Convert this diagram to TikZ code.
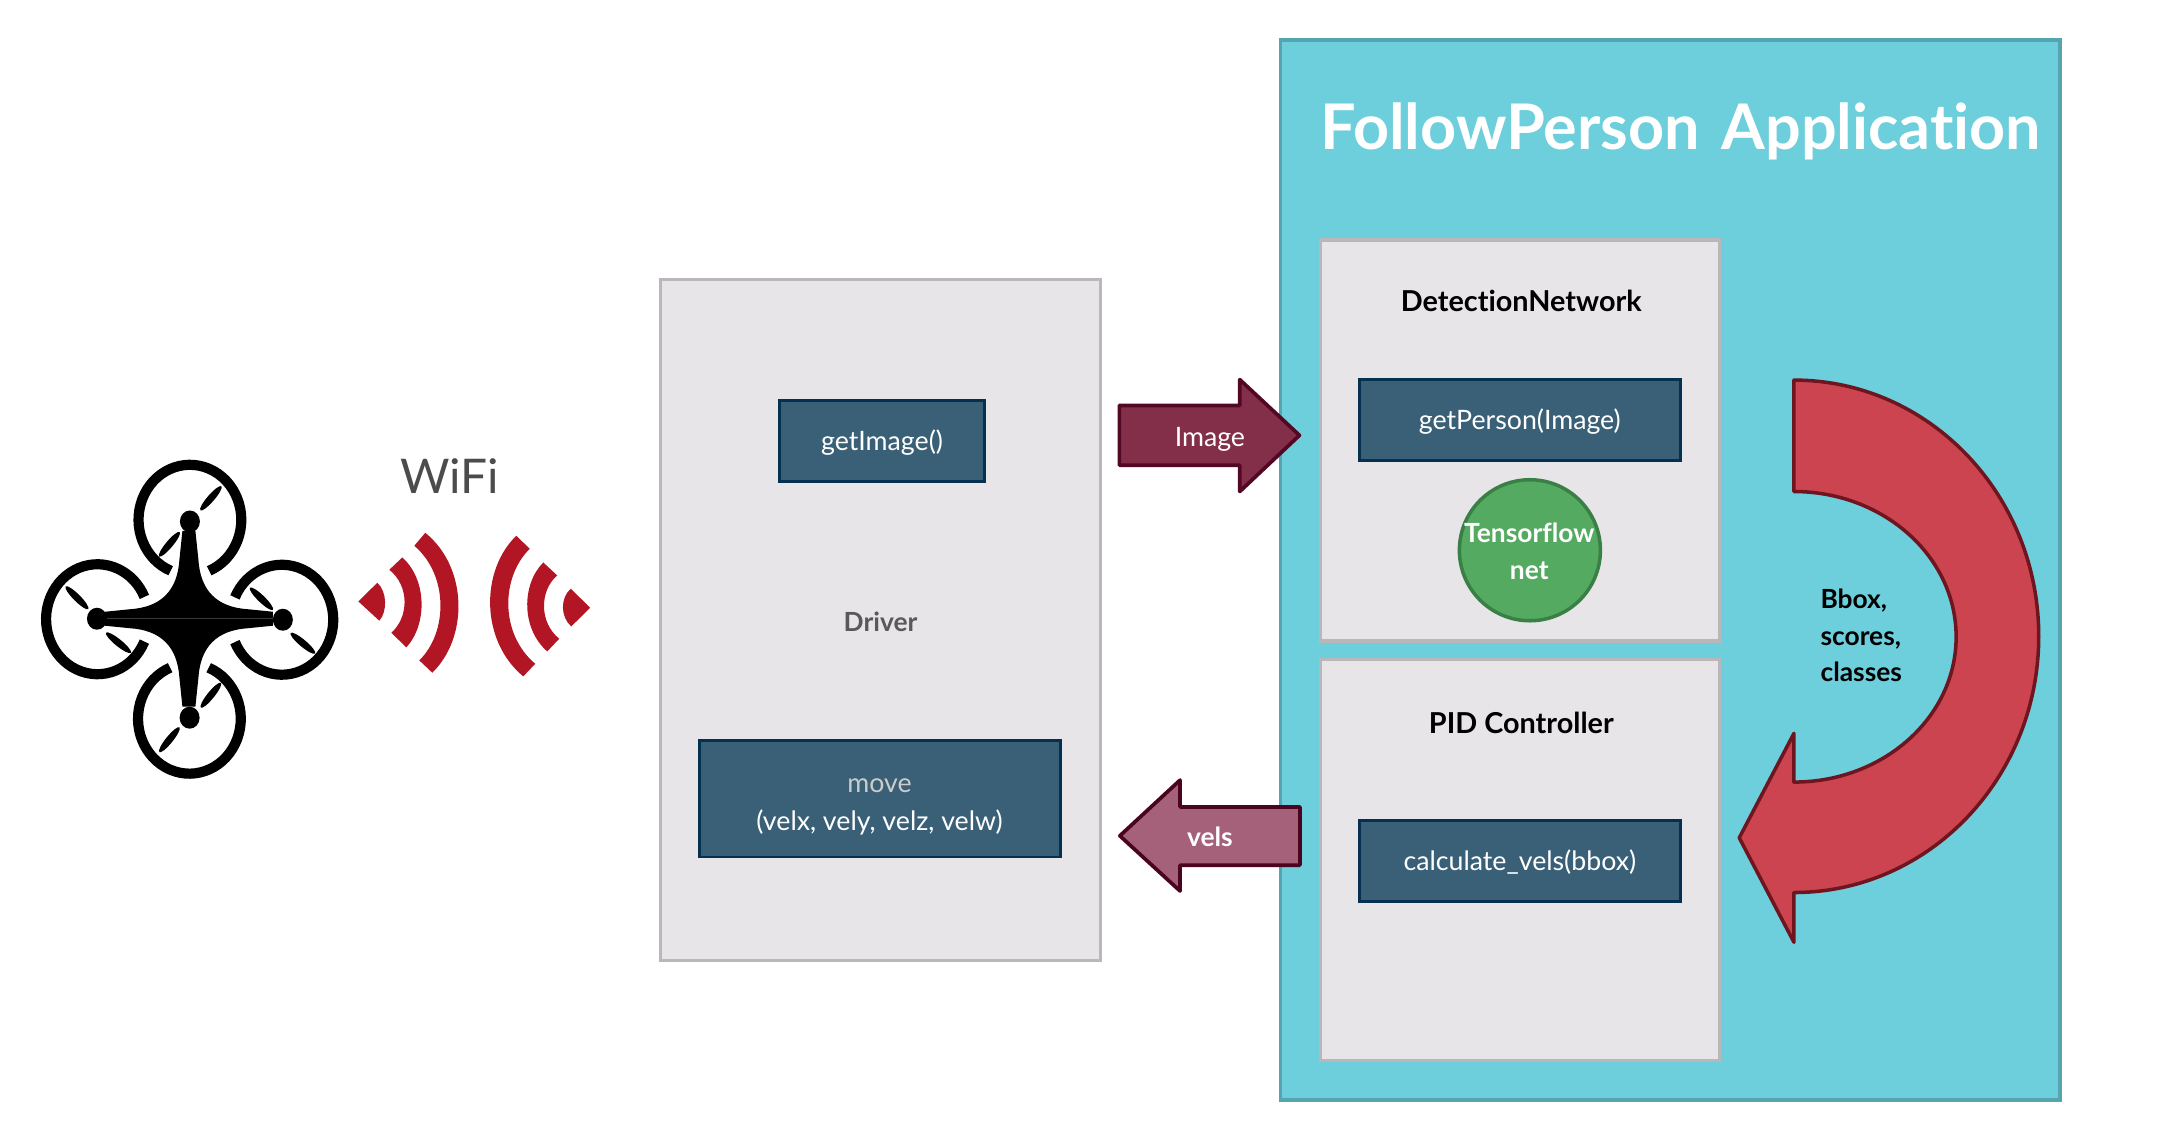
\documentclass[tikz,border=0pt]{standalone}
\usepackage{fontspec}
\setmainfont{Lato}[Ligatures=NoCommon]
\definecolor{appfill}{HTML}{6DCEDC}
\definecolor{appline}{HTML}{55A5B0}
\definecolor{panelfill}{HTML}{E8E5E9}
\definecolor{panelline}{HTML}{B9B7BA}
\definecolor{methodfill}{HTML}{3A6078}
\definecolor{methodline}{HTML}{06304F}
\definecolor{netfill}{HTML}{55AA62}
\definecolor{netline}{HTML}{3A7F45}
\definecolor{wavered}{HTML}{B21523}
\definecolor{imagefill}{HTML}{842F4A}
\definecolor{imageline}{HTML}{520824}
\definecolor{velsfill}{HTML}{A5607A}
\definecolor{velsline}{HTML}{4A0420}
\definecolor{bendfill}{HTML}{CB444F}
\definecolor{bendline}{HTML}{6E1520}
\tikzset{
    txt/.style={font=\fontsize{7.6}{10.6}\selectfont, inner sep=0pt, align=center},
    boldtxt/.style={font=\fontsize{7.5}{10.5}\bfseries\selectfont, inner sep=0pt, align=center},
    headtxt/.style={font=\fontsize{8.2}{10.2}\bfseries\selectfont, inner sep=0pt, align=center},
    panel/.style={draw=panelline, fill=panelfill, line width=1pt, inner sep=0pt},
    method/.style={draw=methodline, fill=methodfill, line width=0.85pt, inner sep=0pt, text=white,
        font=\fontsize{7.6}{10.2}\selectfont, text height=7.6pt, text depth=2pt},
    flow/.style={line width=1.05pt, line join=round},
    rotorring/.style={line width=2.9pt}
}
\begin{document}
\begin{tikzpicture}[x=0.00995cm, y=-0.00995cm]
    \useasboundingbox (0,0) rectangle (2170.9,1145.7);

    % Application background
    \node[draw=appline, fill=appfill, line width=1.1pt, inner sep=0pt, minimum width=7.79cm, minimum height=10.6cm] (app) at (1678.5,573) {};
    \node[txt, text=white, font=\fontsize{17.9}{20}\bfseries\selectfont] (apptitle) at (1689,132) {FollowPerson\hspace{0.1em} Application};

    % Driver block
    \node[panel, minimum width=4.4cm, minimum height=6.81cm, text=black!65, boldtxt, text height=6.4pt, text depth=0pt] (driver) at (885,623) {Driver};
    \node[method, minimum width=2.05cm, minimum height=0.81cm] (getimage) at (886.5,443) {getImage()};
    \node[method, minimum width=3.61cm, minimum height=1.16cm] (move) at (884.5,803) {};
    \node[txt, text=white] (movelabel) at (884,811) {\textcolor{black!20}{move}\\(velx, vely, velz, velw)};

    % Application blocks
    \node[panel, minimum width=3.99cm, minimum height=4.01cm] (detection) at (1527.5,442.5) {};
    \node[panel, minimum width=3.99cm, minimum height=4.01cm] (pid) at (1527.5,864.5) {};
    \node[headtxt] (detectionlabel) at (1529,302) {DetectionNetwork};
    \node[headtxt] (pidlabel) at (1529,726.5) {PID Controller};
    \node[method, minimum width=3.21cm, minimum height=0.81cm] (getperson) at (1527.5,422) {getPerson(Image)};
    \node[method, minimum width=3.21cm, minimum height=0.81cm] (calcvels) at (1527.5,865) {calculate\_vels(bbox)};
    \node[circle, draw=netline, fill=netfill, line width=1pt, inner sep=0pt, minimum size=1.41cm] (tfnet) at (1537.6,553) {};
    \node[boldtxt, text=white] (tfnetlabel) at (1537,554) {Tensorflow\\net};

    % Arrows between blocks
    \draw[flow, draw=velsline, fill=velsfill] (1125.5,840) -- (1186,784) -- (1186,811) -- (1306.5,811) -- (1306.5,869.5) -- (1186,869.5) -- (1186,895.5) -- cycle;
    \draw[flow, draw=imageline, fill=imagefill] (1125,407.5) -- (1246,407.5) -- (1246,381.5) -- (1306,437.5) -- (1246,494) -- (1246,467.5) -- (1125,467.5) -- cycle;
    \node[txt, text=white] (imagelabel) at (1216,442) {Image};
    \node[boldtxt, text=white] (velslabel) at (1216,841) {vels};

    % Curved arrow
    \draw[line width=1pt, line join=round, draw=bendline, fill=bendfill] (1803,382) arc[start angle=-90, end angle=90, x radius=246, y radius=257.5] -- (1803,947) -- (1748,842) -- (1803,737) -- (1803,786) arc[start angle=90, end angle=-90, x radius=163, y radius=146] -- cycle;
    \node[boldtxt, align=left, anchor=west] (bboxlabel) at (1829,638.5) {Bbox,\\scores,\\classes};

    \node[txt, text=black!70, font=\fontsize{13.6}{16}\selectfont] (wifi) at (452,478) {WiFi};

    \begin{scope}[x=0.01cm, y=-0.01cm]
        % Drone
        \foreach \cx/\cy/\dir/\gap in {190/520/90/22, 189.5/719/-90/22, 97.5/619.5/0/24, 282/620/180/24} {
            \draw[rotorring] (\cx,\cy) ++(\dir+\gap:51.4 and 55) arc[start angle=\dir+\gap, end angle=\dir-\gap+360, x radius=51.4, y radius=55];
        }
        \foreach \sx/\sy in {1/1, -1/1, 1/-1, -1/-1} {
            \fill[shift={(189,619)}, xscale=\sx, yscale=\sy] (0,0) -- (0,-88) -- (-6.5,-88) -- (-9.5,-59) .. controls (-11.5,-28) and (-28,-11.5) .. (-59,-9.5) -- (-84,-7) -- (-84,0) -- cycle;
        }
        \foreach \hx/\hy in {190/521.7, 189.7/718, 97/619, 283/620} {
            \fill (\hx,\hy) ellipse [x radius=10, y radius=11];
        }
        \foreach \bx/\by/\ang in {211/498.5/49, 169.5/544.5/50, 211/695.5/51, 169.5/740/51, 77/598/-45, 118.5/643/-39, 261.5/599/-44, 303/643.5/-40} {
            \fill[rotate around={\ang:(\bx,\by)}] (\bx,\by) ellipse [x radius=16, y radius=3.5];
        }

        % Waves
        \begin{scope}[xshift=-0.015cm]
            \fill[wavered] (360,601.7) -- (379,583) .. controls (389,592) and (389,612) .. (381,621) -- cycle;
            \fill[wavered] (391,570) -- (404,557.7) .. controls (429,580) and (429,625) .. (408,647.7) -- (393,633) .. controls (411,617) and (411,586) .. cycle;
            \fill[wavered] (416,546) -- (427,533) .. controls (470,568) and (470,638) .. (434,673) -- (421,660.7) .. controls (450,632) and (450,575) .. cycle;
            \fill[wavered] (592,608) -- (572.5,589) .. controls (562,598) and (562,617) .. (573,626.7) -- cycle;
            \fill[wavered] (545,562.7) -- (559,575.7) .. controls (541,591) and (541,623) .. (561,639) -- (549,651.7) .. controls (523,629) and (523,585) .. cycle;
            \fill[wavered] (518,536) -- (531.5,549) .. controls (502,578) and (502,635) .. (537,664) -- (525,676.7) .. controls (482,641) and (482,571) .. cycle;
        \end{scope}
    \end{scope}
\end{tikzpicture}
\end{document}
